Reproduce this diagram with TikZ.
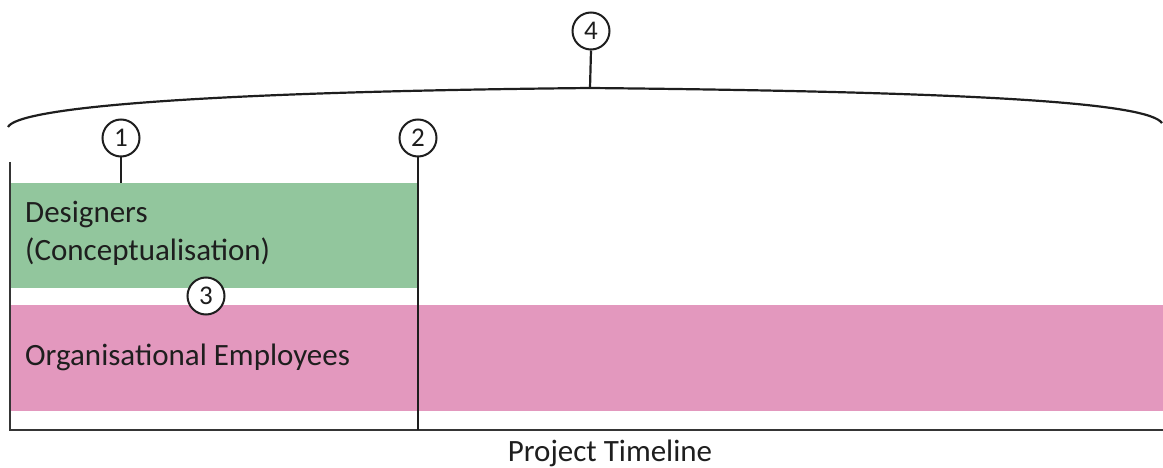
\documentclass[tikz,border=0pt]{standalone}
\usepackage{fontspec}
\setmainfont{Carlito}
\definecolor{desgreen}{RGB}{146,198,157}
\definecolor{orgpink}{RGB}{227,152,190}
\definecolor{inkc}{RGB}{30,30,30}
\begin{document}
\begin{tikzpicture}[x=1pt,y=-1pt,
  numc/.style={circle,draw=inkc,line width=2pt,fill=white,minimum size=37pt,inner sep=0pt,font=\fontsize{27}{27}\selectfont,text=inkc},
  lbl/.style={font=\fontsize{31}{38}\selectfont,text=inkc,anchor=west,align=left,inner sep=0pt},
  ln/.style={draw=inkc,line width=2.2pt}]
\useasboundingbox (0,0) rectangle (1163,468);
% bars
\fill[desgreen] (10,183) rectangle (418,288);
\fill[orgpink] (10,305) rectangle (1163,411);
% axes
\coordinate (ltop) at (10,162);
\coordinate (lbot) at (10,430);
\coordinate (rbot) at (1163,430);
\draw[draw=inkc!90,line width=2.6pt] (ltop) -- (lbot) -- (rbot);
% brace
\coordinate (bl) at (8,127);
\coordinate (bm) at (590,88);
\coordinate (br) at (1162,123);
\draw[ln] (bl) .. controls (18,108) and (190,92) .. (bm) .. controls (1000,92) and (1148,104) .. (br);
% markers
\node[numc] (n4) at (591,31) {4};
\draw[ln] (n4.south) -- (bm);
\node[numc] (n1) at (121,138) {1};
\coordinate (g1) at (121,183);
\draw[ln] (n1.south) -- (g1);
\node[numc] (n2) at (418,138) {2};
\coordinate (g2) at (418,430);
\draw[ln] (n2.south) -- (g2);
\node[numc] (n3) at (206,296) {3};
% labels
\node[lbl] (des) at (25,233) {Designers\\(Conceptualisation)};
\node[lbl] (org) at (25,357) {Organisational Employees};
\node[font=\fontsize{31}{38}\selectfont,text=inkc,inner sep=0pt] (pt) at (610,453) {Project Timeline};
\end{tikzpicture}
\end{document}
